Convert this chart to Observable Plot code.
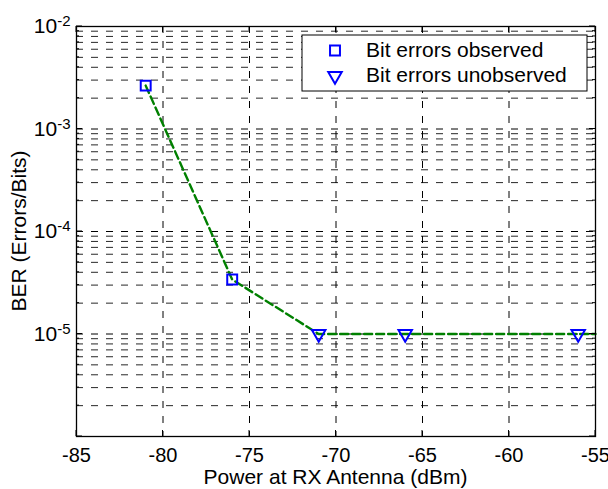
<!DOCTYPE html>
<html>
<head>
<meta charset="utf-8">
<script src="https://cdn.jsdelivr.net/npm/d3@7"></script>
<script src="https://cdn.jsdelivr.net/npm/@observablehq/plot@0.6"></script>
<style>
  html, body { margin: 0; padding: 0; background: #fff; }
  #chart svg { display: block; font-family: "Liberation Sans", Arial, sans-serif; }
</style>
</head>
<body>
<div id="chart"></div>
<script>
// ---- data ----
const observedX = [-81, -76];
const observedY = [2.65e-3, 3.4e-5];
const unobservedX = [-71, -66, -56];
const unobservedY = [1e-5, 1e-5, 1e-5];
const lineX = [-81, -76, -71, -66, -56, -55];
const lineY = [2.65e-3, 3.4e-5, 1e-5, 1e-5, 1e-5, 1e-5];

const xTicks = [-85, -80, -75, -70, -65, -60, -55];
const yLabelTicks = [1e-5, 1e-4, 1e-3, 1e-2];
const yLabelExponents = ["-5", "-4", "-3", "-2"];
const yMajorGrid = [1e-5, 1e-4, 1e-3];
const yMinorGrid = [
  2e-6, 3e-6, 4e-6, 5e-6, 6e-6, 7e-6, 8e-6, 9e-6,
  2e-5, 3e-5, 4e-5, 5e-5, 6e-5, 7e-5, 8e-5, 9e-5,
  2e-4, 3e-4, 4e-4, 5e-4, 6e-4, 7e-4, 8e-4, 9e-4,
  2e-3, 3e-3, 4e-3, 5e-3, 6e-3, 7e-3, 8e-3, 9e-3
];
const legendLabels = ["Bit errors observed", "Bit errors unobserved"];

const observed = observedX.map((x, i) => ({x, y: observedY[i]}));
const unobserved = unobservedX.map((x, i) => ({x, y: unobservedY[i]}));
const line = lineX.map((x, i) => ({x, y: lineY[i]}));

const W = 608, H = 489;
const mL = 76, mR = 13, mT = 26, mB = 53;
const blue = "#0000ff", green = "#008000";

const chart = Plot.plot({
  width: W,
  height: H,
  marginLeft: mL,
  marginRight: mR,
  marginTop: mT,
  marginBottom: mB,
  style: {fontFamily: "Liberation Sans, Arial, sans-serif", background: "#fff", overflow: "visible"},
  x: {domain: [-85, -55], label: null},
  y: {type: "log", domain: [1e-6, 1e-2], label: null},
  marks: [
    Plot.ruleY(yMinorGrid, {stroke: "#000", strokeWidth: 1, strokeDasharray: "7,8", strokeOpacity: 0.85}),
    Plot.ruleY(yMajorGrid, {stroke: "#000", strokeWidth: 1, strokeDasharray: "7,8"}),
    Plot.ruleX(xTicks.slice(1, -1), {stroke: "#000", strokeWidth: 1, strokeDasharray: "7,8"}),
    Plot.axisX(xTicks, {anchor: "bottom", tickSize: 0, tickPadding: 11, fontSize: 20, fill: "#000", tickFormat: d => String(d)}),
    Plot.axisY(yLabelTicks, {anchor: "left", tickSize: 0, tickPadding: 6, fontSize: 21, fill: "#000", tickFormat: () => "10"}),
    Plot.line(line, {x: "x", y: "y", stroke: green, strokeWidth: 2.4, strokeDasharray: "8,4"}),
    Plot.dot(observed, {x: "x", y: "y", symbol: "square", r: 5.6, stroke: blue, strokeWidth: 2, fill: "none"}),
    Plot.dot(unobserved, {x: "x", y: "y", symbol: "triangle", rotate: 180, r: 5, stroke: blue, strokeWidth: 2, fill: "none"}),
    Plot.frame({stroke: "#000", strokeWidth: 1.3})
  ]
});

const svg = d3.select(chart);
const xs = chart.scale("x"), ys = chart.scale("y");
const pLeft = mL, pRight = W - mR, pTop = mT, pBottom = H - mB;

// superscript exponents on y labels
svg.selectAll('g[aria-label="y-axis tick label"] text').each(function(d, i) {
  const t = d3.select(this);
  t.text("10");
  t.append("tspan").attr("dy", "-0.45em").attr("font-size", 15).text(yLabelExponents[i]);
});

// inward tick marks (MATLAB style)
const tk = svg.append("g").attr("stroke", "#000").attr("stroke-width", 1);
xTicks.forEach(v => {
  const px = xs.apply(v);
  tk.append("line").attr("x1", px).attr("x2", px).attr("y1", pBottom).attr("y2", pBottom - 6);
  tk.append("line").attr("x1", px).attr("x2", px).attr("y1", pTop).attr("y2", pTop + 6);
});
yLabelTicks.concat([1e-6]).forEach(v => {
  const py = ys.apply(v);
  tk.append("line").attr("x1", pLeft).attr("x2", pLeft + 6).attr("y1", py).attr("y2", py);
  tk.append("line").attr("x1", pRight).attr("x2", pRight - 6).attr("y1", py).attr("y2", py);
});
yMinorGrid.forEach(v => {
  const py = ys.apply(v);
  tk.append("line").attr("x1", pLeft).attr("x2", pLeft + 3).attr("y1", py).attr("y2", py);
  tk.append("line").attr("x1", pRight).attr("x2", pRight - 3).attr("y1", py).attr("y2", py);
});

// axis titles
svg.append("text")
  .attr("x", (pLeft + pRight) / 2).attr("y", 484)
  .attr("text-anchor", "middle").attr("font-size", 21).attr("fill", "#000")
  .text("Power at RX Antenna (dBm)");
svg.append("text")
  .attr("transform", `translate(26,${(pTop + pBottom) / 2}) rotate(-90)`)
  .attr("text-anchor", "middle").attr("font-size", 21).attr("fill", "#000")
  .text("BER (Errors/Bits)");

// legend
const lg = svg.append("g");
lg.append("rect").attr("x", 302).attr("y", 35).attr("width", 285).attr("height", 56)
  .attr("fill", "#fff").attr("stroke", "#000").attr("stroke-width", 1);
const sq = d3.symbol(d3.symbolSquare, Math.PI * 5.6 * 5.6)();
const tri = d3.symbol(d3.symbolTriangle, Math.PI * 5 * 5)();
lg.append("path").attr("d", sq).attr("transform", "translate(335,50.5)")
  .attr("fill", "none").attr("stroke", blue).attr("stroke-width", 2);
lg.append("path").attr("d", tri).attr("transform", "translate(335,76) rotate(180)")
  .attr("fill", "none").attr("stroke", blue).attr("stroke-width", 2);
legendLabels.forEach((s, i) => {
  lg.append("text").attr("x", 366).attr("y", 50 + i * 25).attr("dy", "0.35em")
    .attr("text-anchor", "start").attr("font-size", 21).attr("fill", "#000").text(s);
});

document.getElementById("chart").appendChild(chart);
</script>
</body>
</html>
